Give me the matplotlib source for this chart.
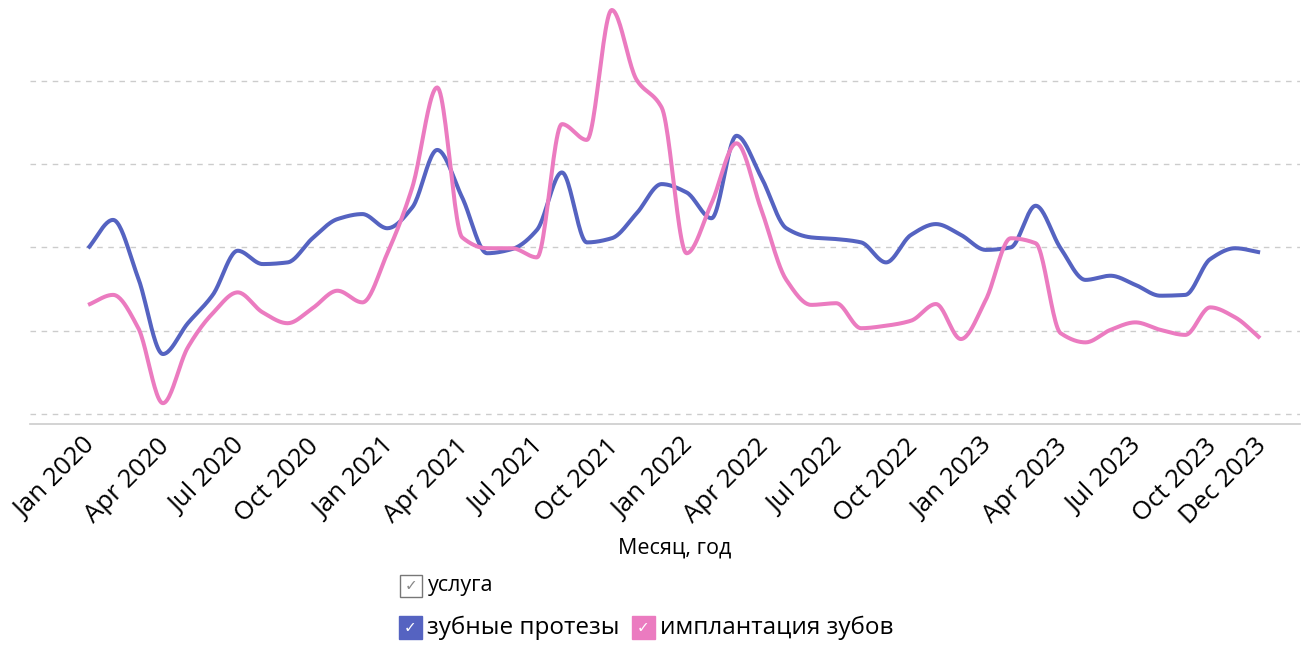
import numpy as np
import matplotlib
matplotlib.use("Agg")
import matplotlib.pyplot as plt
import matplotlib.transforms as mtransforms
from matplotlib.patches import Rectangle

# === DATA (monthly values, Jan 2020 .. Dec 2023) ===
month_idx = list(range(48))
prosthesis = [199, 233, 164, 72, 109, 143, 196, 180, 182, 211, 234, 240,
              223, 248, 317, 260, 193, 198, 221, 290, 206, 211, 241, 276,
              266, 235, 334, 284, 223, 212, 210, 206, 182, 215, 228, 215,
              197, 200, 250, 199, 161, 166, 155, 142, 143, 186, 199, 194]
implants = [131, 143, 104, 13, 80, 121, 146, 122, 109, 127, 148, 134,
            193, 272, 392, 212, 199, 199, 188, 348, 329, 485, 401, 368,
            193, 253, 325, 245, 161, 131, 133, 103, 106, 112, 132, 90,
            137, 211, 205, 97, 86, 101, 110, 101, 95, 128, 116, 91]
tick_pos = [0, 3, 6, 9, 12, 15, 18, 21, 24, 27, 30, 33, 36, 39, 42, 45, 47]
tick_labels = ["Jan 2020", "Apr 2020", "Jul 2020", "Oct 2020",
               "Jan 2021", "Apr 2021", "Jul 2021", "Oct 2021",
               "Jan 2022", "Apr 2022", "Jul 2022", "Oct 2022",
               "Jan 2023", "Apr 2023", "Jul 2023", "Oct 2023", "Dec 2023"]
series_names = ["зубные протезы", "имплантация зубов"]
colors = ["#5563c1", "#eb7bc0"]

FONT = ["Open Sans", "DejaVu Sans"]
plt.rcParams["font.family"] = FONT


def monotone_curve(x, y, steps=24):
    # monotone cubic (Fritsch-Carlson) smoothing, like a "spline" line
    x = np.asarray(x, float)
    y = np.asarray(y, float)
    h = np.diff(x)
    d = np.diff(y) / h
    m = np.zeros_like(y)
    m[0], m[-1] = d[0], d[-1]
    for k in range(1, len(y) - 1):
        if d[k - 1] * d[k] <= 0:
            m[k] = 0.0
        else:
            w1 = 2 * h[k] + h[k - 1]
            w2 = h[k] + 2 * h[k - 1]
            m[k] = (w1 + w2) / (w1 / d[k - 1] + w2 / d[k])
    xs, ys = [], []
    for k in range(len(x) - 1):
        t = np.linspace(0, 1, steps, endpoint=False)
        h00 = 2 * t**3 - 3 * t**2 + 1
        h10 = t**3 - 2 * t**2 + t
        h01 = -2 * t**3 + 3 * t**2
        h11 = t**3 - t**2
        xs.append(x[k] + t * h[k])
        ys.append(h00 * y[k] + h10 * h[k] * m[k] + h01 * y[k + 1] + h11 * h[k] * m[k + 1])
    xs.append([x[-1]])
    ys.append([y[-1]])
    return np.concatenate(xs), np.concatenate(ys)


W, H = 1302, 646
fig = plt.figure(figsize=(W / 100, H / 100), dpi=100)
ax = fig.add_axes([30 / W, 1 - 424 / H, 1270 / W, 424 / H])

for vals, c in zip([prosthesis, implants], colors):
    sx, sy = monotone_curve(month_idx, vals)
    ax.plot(sx, sy, color=c, lw=2.9, solid_capstyle="butt", zorder=3)

ax.set_xlim(-2.33, 48.6)
ax.set_ylim(-12, 497)
ax.set_yticks([0, 100, 200, 300, 400])
ax.yaxis.grid(True, color="#cccccc", lw=1.0, linestyle=(0, (4, 4)))
ax.tick_params(axis="y", left=False, labelleft=False)
ax.set_xticks(tick_pos)
ax.set_xticklabels(tick_labels, rotation=45, ha="right", rotation_mode="anchor",
                   fontsize=18.5)
ax.tick_params(axis="x", length=0, pad=7)
shift = mtransforms.ScaledTranslation(-6 / 100, 0, fig.dpi_scale_trans)
for lbl in ax.get_xticklabels():
    lbl.set_transform(lbl.get_transform() + shift)
for s in ["top", "right", "left"]:
    ax.spines[s].set_visible(False)
ax.spines["bottom"].set_color("#cccccc")
ax.spines["bottom"].set_linewidth(1.2)

fig.text(675 / W, 1 - 548 / H, "Месяц, год", ha="center", va="center", fontsize=15.5)

# === legend with checkbox look ===
def checkbox(x0, y0, w, h, face, edge, mark_color):
    fig.patches.append(Rectangle((x0 / W, 1 - (y0 + h) / H), w / W, h / H,
                                 transform=fig.transFigure, facecolor=face,
                                 edgecolor=edge, lw=1.0))
    fig.text((x0 + w / 2) / W, 1 - (y0 + h / 2) / H, "✓", ha="center", va="center",
             fontsize=11, color=mark_color, family=["DejaVu Sans"])

checkbox(400, 575, 22, 22, "white", "#777777", "#888888")
fig.text(428 / W, 1 - 586 / H, "услуга", ha="left", va="center", fontsize=15.5)

checkbox(399, 616, 23, 23, colors[0], colors[0], "white")
fig.text(427 / W, 1 - 628 / H, series_names[0], ha="left", va="center", fontsize=17.5)
checkbox(632, 616, 23, 23, colors[1], colors[1], "white")
fig.text(660 / W, 1 - 628 / H, series_names[1], ha="left", va="center", fontsize=17.5)

fig.savefig("out.png", dpi=100)
